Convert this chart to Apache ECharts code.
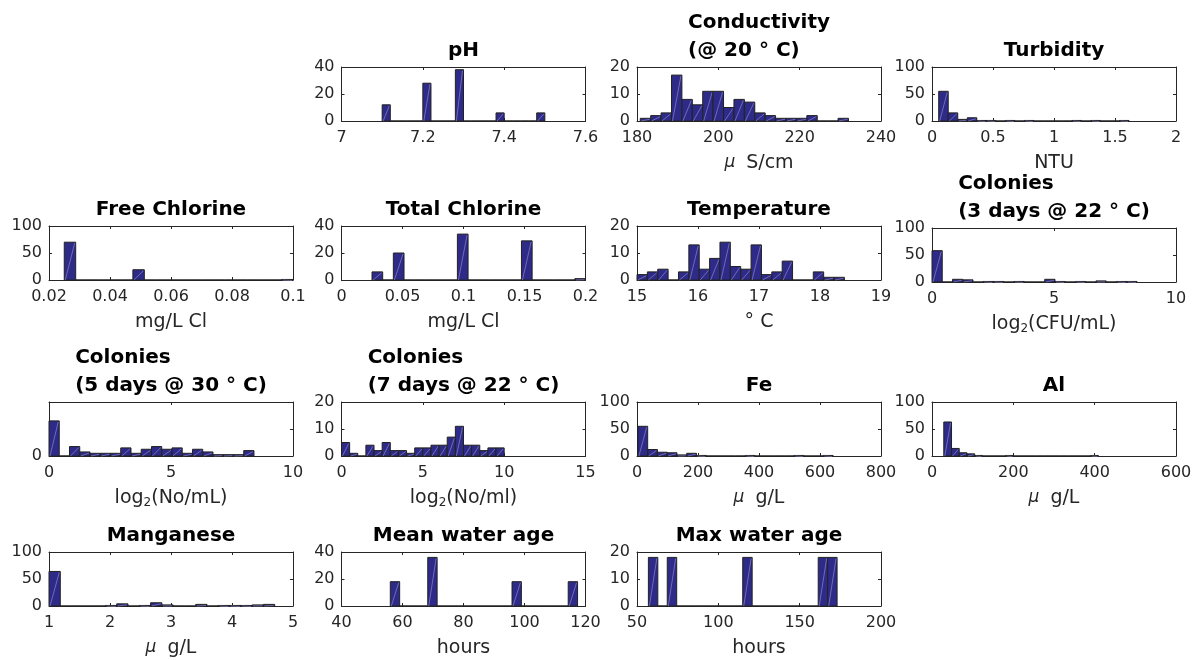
<!DOCTYPE html>
<html lang="en">
<head>
    <meta charset="UTF-8">
    <title>Water quality histograms</title>
    <script src="https://cdn.jsdelivr.net/npm/echarts@6/dist/echarts.min.js"></script>
    <style>
        html, body { margin: 0; background: #fff; }
        #main { width: 1199px; height: 660px; }
    </style>
</head>
<body>
<div id="main"></div>
<script type="text/javascript">

    // histogram data: first bin edge, bin width, counts per bin
    var phStart = 7.1, phBin = 0.02;
    var phCounts = [12, 0, 0, 0, 0, 28, 0, 0, 0, 38, 0, 0, 0, 0, 6, 0, 0, 0, 0, 6];

    var condStart = 180.8, condBin = 2.56;
    var condCounts = [1, 2, 3, 17, 8, 6, 11, 11, 5, 8, 7, 3, 2, 1, 1, 1, 2, 0, 0, 1];

    var turbStart = 0.055, turbBin = 0.078;
    var turbCounts = [55, 15, 3, 6, 1, 1, 0, 1, 0, 1, 0, 0, 0, 0, 1, 0, 1, 0, 0, 1];

    var freeStart = 0.025, freeBin = 0.00375;
    var freeCounts = [70, 0, 0, 0, 0, 0, 19, 0, 0, 0, 0, 0, 0, 0, 0, 0, 0, 0, 0, 1];

    var totStart = 0.025, totBin = 0.00875;
    var totCounts = [6, 0, 20, 0, 0, 0, 0, 0, 34, 0, 0, 0, 0, 0, 29, 0, 0, 0, 0, 1];

    var tempStart = 15, tempBin = 0.17;
    var tempCounts = [2, 3, 4, 0, 3, 13, 4, 8, 14, 5, 4, 13, 2, 3, 7, 0, 0, 3, 1, 1];

    var col3Start = 0, col3Bin = 0.42;
    var col3Counts = [58, 0, 5, 4, 0, 1, 1, 0, 1, 0, 0, 5, 1, 0, 1, 0, 2, 0, 1, 1];

    var col5Start = 0, col5Bin = 0.42;
    var col5Counts = [26, 0, 7, 3, 2, 2, 2, 6, 2, 5, 7, 5, 6, 2, 5, 3, 1, 1, 1, 4];

    var col7Start = 0, col7Bin = 0.5;
    var col7Counts = [5, 1, 0, 4, 2, 5, 2, 2, 1, 3, 3, 4, 4, 7, 11, 4, 4, 2, 3, 3];

    var feStart = 3, feBin = 32;
    var feCounts = [55, 12, 7, 6, 2, 5, 1, 0, 0, 0, 0, 1, 0, 0, 0, 0, 1, 0, 0, 1];

    var alStart = 29, alBin = 19;
    var alCounts = [63, 14, 6, 4, 1, 0, 0, 0, 1, 0, 0, 0, 0, 0, 0, 0, 0, 0, 0, 1];

    var mnStart = 1, mnBin = 0.185;
    var mnCounts = [64, 0, 0, 0, 0, 1, 4, 0, 1, 6, 2, 0, 0, 3, 0, 1, 1, 1, 2, 3];

    var meanStart = 56, meanBin = 3.07;
    var meanCounts = [18, 0, 0, 0, 36, 0, 0, 0, 0, 0, 0, 0, 0, 18, 0, 0, 0, 0, 0, 18];

    var maxStart = 57, maxBin = 5.8;
    var maxCounts = [18, 0, 18, 0, 0, 0, 0, 0, 0, 0, 18, 0, 0, 0, 0, 0, 0, 0, 18, 18];

    // styles
    var FONT = 'DejaVu Sans';
    var TXT = '#262626';
    var AXIS = '#262626';
    var BAR = '#2e2a88';
    var EDGE = '#222222';
    var HATCH = '#9a96d8';

    // layout of the 4x4 grid of small axes
    var colLeft = [49, 341.5, 637, 932];
    var rowTop = [67, 226, 402, 552];
    var plotW = 244, plotH = 54;

    var MU = '{m|μ}';
    var panels = [
        {title: ['pH'], name: '', start: phStart, bin: phBin, counts: phCounts, x: [7, 7.6, 0.2], y: [40, 20], col: 1, row: 0},
        {title: ['Conductivity', '(@ 20 ° C)'], name: MU + 'S/cm', start: condStart, bin: condBin, counts: condCounts, x: [180, 240, 20], y: [20, 10], col: 2, row: 0},
        {title: ['Turbidity'], name: 'NTU', start: turbStart, bin: turbBin, counts: turbCounts, x: [0, 2, 0.5], y: [100, 50], col: 3, row: 0},
        {title: ['Free Chlorine'], name: 'mg/L Cl', start: freeStart, bin: freeBin, counts: freeCounts, x: [0.02, 0.1, 0.02], y: [100, 50], col: 0, row: 1},
        {title: ['Total Chlorine'], name: 'mg/L Cl', start: totStart, bin: totBin, counts: totCounts, x: [0, 0.2, 0.05], y: [40, 20], col: 1, row: 1},
        {title: ['Temperature'], name: '° C', start: tempStart, bin: tempBin, counts: tempCounts, x: [15, 19, 1], y: [20, 10], col: 2, row: 1},
        {title: ['Colonies', '(3 days @ 22 ° C)'], name: 'log{s|2}(CFU/mL)', start: col3Start, bin: col3Bin, counts: col3Counts, x: [0, 10, 5], y: [100, 50], col: 3, row: 1, dy: 2},
        {title: ['Colonies', '(5 days @ 30 ° C)'], name: 'log{s|2}(No/mL)', start: col5Start, bin: col5Bin, counts: col5Counts, x: [0, 10, 5], y: [40, 20], col: 0, row: 2, zeroOnly: true},
        {title: ['Colonies', '(7 days @ 22 ° C)'], name: 'log{s|2}(No/ml)', start: col7Start, bin: col7Bin, counts: col7Counts, x: [0, 15, 5], y: [20, 10], col: 1, row: 2},
        {title: ['Fe'], name: MU + 'g/L', start: feStart, bin: feBin, counts: feCounts, x: [0, 800, 200], y: [100, 50], col: 2, row: 2},
        {title: ['Al'], name: MU + 'g/L', start: alStart, bin: alBin, counts: alCounts, x: [0, 600, 200], y: [100, 50], col: 3, row: 2},
        {title: ['Manganese'], name: MU + 'g/L', start: mnStart, bin: mnBin, counts: mnCounts, x: [1, 5, 1], y: [100, 50], col: 0, row: 3},
        {title: ['Mean water age'], name: 'hours', start: meanStart, bin: meanBin, counts: meanCounts, x: [40, 120, 20], y: [40, 20], col: 1, row: 3},
        {title: ['Max water age'], name: 'hours', start: maxStart, bin: maxBin, counts: maxCounts, x: [50, 200, 50], y: [20, 10], col: 2, row: 3}
    ];

    function binsOf(p) {
        return p.counts.map(function (c, k) {
            return [p.start + k * p.bin, p.start + (k + 1) * p.bin, c];
        });
    }

    // one histogram bar: filled rect plus a thin diagonal hatch line
    function renderBin(params, api) {
        var a = api.coord([api.value(0), 0]);
        var b = api.coord([api.value(1), api.value(2)]);
        var kids = [{
            type: 'rect',
            shape: {x: a[0], y: b[1], width: b[0] - a[0], height: a[1] - b[1]},
            style: {fill: BAR, stroke: EDGE, lineWidth: 1}
        }];
        if (api.value(2) > 0) {
            kids.push({
                type: 'line',
                shape: {x1: a[0] + 1, y1: a[1], x2: b[0] - 1, y2: b[1] + 1},
                style: {stroke: HATCH, lineWidth: 0.6}
            });
        }
        return {type: 'group', children: kids};
    }

    var grids = [], xAxes = [], yAxes = [], titles = [], series = [];

    panels.forEach(function (p, i) {
        var left = colLeft[p.col], top = rowTop[p.row] + (p.dy || 0);
        grids.push({left: left, top: top, width: plotW, height: plotH});

        var two = p.title.length > 1;
        titles.push({
            text: p.title.map(function (t) { return '{t|' + t + '}'; }).join('\n'),
            left: left + plotW / 2,
            top: two ? top - 58 : top - 30,
            textAlign: 'center',
            padding: 0,
            textStyle: {
                rich: {t: {fontFamily: FONT, fontWeight: 'bold', fontSize: 20, color: '#000', lineHeight: 28, align: 'left'}}
            }
        });

        [false, true].forEach(function (isTop) {
            xAxes.push({
                type: 'value', gridIndex: i, position: isTop ? 'top' : 'bottom',
                min: p.x[0], max: p.x[1], interval: p.x[2],
                axisLine: {show: true, onZero: false, lineStyle: {color: AXIS, width: 1}},
                axisTick: {show: true, inside: true, length: 3, lineStyle: {color: AXIS}},
                axisLabel: {show: !isTop, color: TXT, fontFamily: FONT, fontSize: 16, margin: 9,
                    showMinLabel: true, showMaxLabel: true, hideOverlap: false},
                splitLine: {show: false},
                name: isTop ? '' : p.name,
                nameLocation: 'middle', nameGap: 31,
                nameTextStyle: {
                    color: TXT, fontFamily: FONT, fontSize: 19, lineHeight: 22,
                    rich: {
                        s: {fontFamily: FONT, fontSize: 12, color: TXT, lineHeight: 12, verticalAlign: 'bottom'},
                        m: {fontFamily: FONT, fontSize: 17, color: TXT, fontStyle: 'italic', padding: [0, 11, 0, 0]}
                    }
                }
            });
            yAxes.push({
                type: 'value', gridIndex: i, position: isTop ? 'right' : 'left',
                min: 0, max: p.y[0], interval: p.y[1],
                axisLine: {show: true, onZero: false, lineStyle: {color: AXIS, width: 1}},
                axisTick: {show: true, inside: true, length: 3, lineStyle: {color: AXIS}},
                axisLabel: {show: !isTop, color: TXT, fontFamily: FONT, fontSize: 16, margin: 7,
                    showMinLabel: true, showMaxLabel: true,
                    formatter: p.zeroOnly ? function (v) { return v === 0 ? '0' : ''; } : null},
                splitLine: {show: false}
            });
        });

        series.push({
            type: 'custom',
            xAxisIndex: 2 * i,
            yAxisIndex: 2 * i,
            renderItem: renderBin,
            encode: {x: [0, 1], y: 2},
            data: binsOf(p),
            silent: true
        });
    });

    var chart = echarts.init(document.getElementById('main'));
    chart.setOption({
        animation: false,
        backgroundColor: '#fff',
        title: titles,
        grid: grids,
        xAxis: xAxes,
        yAxis: yAxes,
        series: series
    });
</script>
</body>
</html>
